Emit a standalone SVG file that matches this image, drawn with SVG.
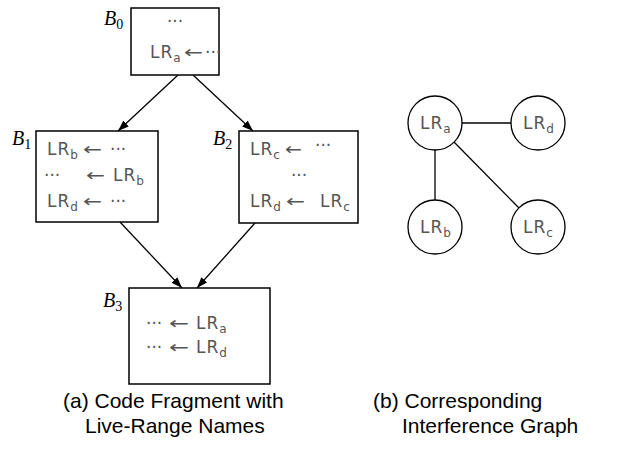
<svg xmlns="http://www.w3.org/2000/svg" width="620" height="449" viewBox="0 0 620 449">
<style>
.box{fill:#fff;stroke:#000;stroke-width:1.5}
.node{fill:#fff;stroke:#000;stroke-width:1.3}
.edge{stroke:#000;stroke-width:1.3;fill:none}
.code{font-family:"DejaVu Sans",sans-serif;font-size:17px;fill:#555}
.lr{letter-spacing:1px}
.sub{font-size:12px}
.blab{font-family:"Liberation Serif",serif;font-style:italic;font-size:20px;fill:#000}
.bs{font-style:normal;font-size:14px}
.cap{font-family:"Liberation Sans",Arial,sans-serif;font-size:21px;fill:#000}
</style>
<defs>
<marker id="ah" markerWidth="11" markerHeight="8" refX="11" refY="4" orient="auto" markerUnits="userSpaceOnUse">
<path d="M0,0 L11,4 L0,8 z" fill="#000"/>
</marker>
</defs>

<g id="connectors">
<line class="edge" x1="178" y1="75" x2="118" y2="131" marker-end="url(#ah)"/>
<line class="edge" x1="193" y1="75" x2="253" y2="131" marker-end="url(#ah)"/>
<line class="edge" x1="120" y1="222" x2="182" y2="288" marker-end="url(#ah)"/>
<line class="edge" x1="255" y1="223" x2="197" y2="288" marker-end="url(#ah)"/>
<line class="edge" x1="462" y1="123" x2="511" y2="123"/>
<line class="edge" x1="435" y1="150" x2="435" y2="200"/>
<line class="edge" x1="454" y1="142" x2="519" y2="208"/>
</g>

<g id="B0">
<rect class="box" x="131" y="8" width="88" height="67"/>
<text class="blab" x="104" y="25">B<tspan class="bs" dy="4">0</tspan></text>
<text class="code" x="175" y="27" text-anchor="middle">···</text>
<text class="code"><tspan class="lr" x="150" y="58">LR</tspan><tspan class="sub" y="62">a</tspan></text>
<text class="code" x="184" y="58" textLength="19" lengthAdjust="spacingAndGlyphs">←</text>
<text class="code" x="205" y="58">···</text>
</g>

<g id="B1">
<rect class="box" x="36" y="131" width="122" height="91"/>
<text class="blab" x="12" y="145">B<tspan class="bs" dy="4">1</tspan></text>
<text class="code"><tspan class="lr" x="47" y="155">LR</tspan><tspan class="sub" y="159">b</tspan></text>
<text class="code" x="83" y="155" textLength="19" lengthAdjust="spacingAndGlyphs">←</text>
<text class="code" x="110" y="155">···</text>
<text class="code" x="44" y="181">···</text>
<text class="code" x="86" y="181" textLength="19" lengthAdjust="spacingAndGlyphs">←</text>
<text class="code"><tspan class="lr" x="113" y="181">LR</tspan><tspan class="sub" y="185">b</tspan></text>
<text class="code"><tspan class="lr" x="47" y="207">LR</tspan><tspan class="sub" y="211">d</tspan></text>
<text class="code" x="83" y="207" textLength="19" lengthAdjust="spacingAndGlyphs">←</text>
<text class="code" x="110" y="207">···</text>
</g>

<g id="B2">
<rect class="box" x="239" y="131" width="119" height="92"/>
<text class="blab" x="213" y="145">B<tspan class="bs" dy="4">2</tspan></text>
<text class="code"><tspan class="lr" x="250" y="155">LR</tspan><tspan class="sub" y="159">c</tspan></text>
<text class="code" x="285" y="155" textLength="17" lengthAdjust="spacingAndGlyphs">←</text>
<text class="code" x="315" y="151">···</text>
<text class="code" x="299" y="181" text-anchor="middle">···</text>
<text class="code"><tspan class="lr" x="250" y="207">LR</tspan><tspan class="sub" y="211">d</tspan></text>
<text class="code" x="286" y="207" textLength="19" lengthAdjust="spacingAndGlyphs">←</text>
<text class="code"><tspan class="lr" x="320" y="207">LR</tspan><tspan class="sub" y="211">c</tspan></text>
</g>

<g id="B3">
<rect class="box" x="129" y="288" width="141" height="96"/>
<text class="blab" x="103" y="307">B<tspan class="bs" dy="4">3</tspan></text>
<text class="code" x="146" y="329">···</text>
<text class="code" x="169" y="329" textLength="20" lengthAdjust="spacingAndGlyphs">←</text>
<text class="code"><tspan class="lr" x="196" y="329">LR</tspan><tspan class="sub" y="333">a</tspan></text>
<text class="code" x="146" y="353">···</text>
<text class="code" x="169" y="353" textLength="20" lengthAdjust="spacingAndGlyphs">←</text>
<text class="code"><tspan class="lr" x="196" y="353">LR</tspan><tspan class="sub" y="357">d</tspan></text>
</g>

<g id="LRa">
<circle class="node" cx="435" cy="123" r="27"/>
<text class="code"><tspan class="lr" x="420" y="129">LR</tspan><tspan class="sub" y="133">a</tspan></text>
</g>
<g id="LRd">
<circle class="node" cx="538" cy="123" r="27"/>
<text class="code"><tspan class="lr" x="523" y="129">LR</tspan><tspan class="sub" y="133">d</tspan></text>
</g>
<g id="LRb">
<circle class="node" cx="435" cy="227" r="27"/>
<text class="code"><tspan class="lr" x="420" y="233">LR</tspan><tspan class="sub" y="237">b</tspan></text>
</g>
<g id="LRc">
<circle class="node" cx="538" cy="227" r="27"/>
<text class="code"><tspan class="lr" x="523" y="233">LR</tspan><tspan class="sub" y="237">c</tspan></text>
</g>

<g id="captions">
<text class="cap" x="63" y="408">(a) Code Fragment with</text>
<text class="cap" x="85" y="433">Live-Range Names</text>
<text class="cap" x="373" y="408">(b) Corresponding</text>
<text class="cap" x="402" y="433">Interference Graph</text>
</g>
</svg>
